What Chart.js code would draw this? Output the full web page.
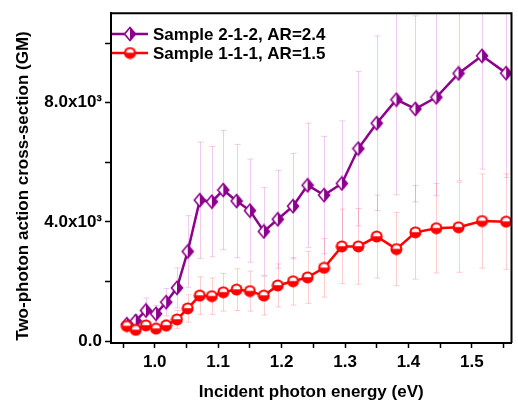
<!DOCTYPE html>
<html>
<head>
<meta charset="utf-8">
<script src="https://cdn.jsdelivr.net/npm/chart.js@4.4.1/dist/chart.umd.min.js"></script>
<style>
  html, body { margin: 0; padding: 0; background: #fff; }
  #wrap { width: 518px; height: 403px; }
</style>
</head>
<body>
<div id="wrap"><canvas id="tpa" width="518" height="403"></canvas></div>
<script>
// photon energy (eV)
const energy = [0.956, 0.970, 0.986, 1.002, 1.018, 1.035, 1.052, 1.071, 1.090, 1.108, 1.129, 1.150, 1.172,
  1.194, 1.218, 1.241, 1.267, 1.295, 1.321, 1.350, 1.381, 1.411, 1.444, 1.479, 1.516, 1.554];

// Sample 2-1-2, AR=2.4
const sampleA = [570, 680, 1030, 920, 1310, 1790, 3010, 4730, 4680, 5070, 4700, 4380, 3680,
  4090, 4530, 5230, 4900, 5290, 6460, 7310, 8100, 7790, 8180, 8980, 9570, 8990];
const sampleAErr = [150, 200, 420, 280, 460, 670, 1200, 1950, 1850, 2000, 1900, 1730, 1470,
  1640, 1770, 2080, 1970, 2100, 2590, 2930, 3190, 3120, 3300, 3600, 3800, 3500];

// Sample 1-1-1, AR=1.5
const sampleB = [510, 380, 530, 420, 530, 730, 1100, 1530, 1510, 1640, 1730, 1680, 1530,
  1870, 2010, 2140, 2460, 3180, 3180, 3510, 3090, 3650, 3790, 3820, 4030, 4010];
const sampleBErr = [120, 130, 150, 150, 200, 300, 460, 630, 610, 630, 700, 670, 650,
  720, 800, 870, 980, 1250, 1270, 1390, 1230, 1570, 1500, 1510, 1580, 1600];

const labels = ['Sample 2-1-2, AR=2.4', 'Sample 1-1-1, AR=1.5'];

// tick positions; only some carry a label
const xTicks = [0.95, 1.0, 1.05, 1.1, 1.15, 1.2, 1.25, 1.3, 1.35, 1.4, 1.45, 1.5, 1.55];
const xTickLabels = ['', '1.0', '', '1.1', '', '1.2', '', '1.3', '', '1.4', '', '1.5', ''];
const yTicks = [0, 2000, 4000, 6000, 8000, 10000];
const yTickLabels = ['0.0', '', '4.0x10\u00B3', '', '8.0x10\u00B3', ''];

const PURPLE = 'rgb(140, 0, 140)';
const RED = 'rgb(255, 0, 0)';
const FONT = '"Liberation Sans", Arial, sans-serif';

// half filled diamond, right half solid
function diamondMarker() {
  const c = document.createElement('canvas');
  c.width = 14; c.height = 16;
  const g = c.getContext('2d');
  g.fillStyle = '#fff';
  g.beginPath(); g.moveTo(7, 1.5); g.lineTo(1.5, 8); g.lineTo(7, 14.5); g.closePath(); g.fill();
  g.fillStyle = PURPLE;
  g.beginPath(); g.moveTo(7, 1.5); g.lineTo(12.5, 8); g.lineTo(7, 14.5); g.closePath(); g.fill();
  g.strokeStyle = PURPLE; g.lineWidth = 1.6;
  g.beginPath(); g.moveTo(7, 1.5); g.lineTo(12.5, 8); g.lineTo(7, 14.5); g.lineTo(1.5, 8); g.closePath(); g.stroke();
  return c;
}

// circle with a white upper half inside a red ring
function circleMarker() {
  const c = document.createElement('canvas');
  c.width = 13; c.height = 13;
  const g = c.getContext('2d');
  g.fillStyle = RED;
  g.beginPath(); g.arc(6.5, 6.5, 6, 0, Math.PI * 2); g.fill();
  g.fillStyle = '#fff';
  g.beginPath(); g.arc(6.5, 6.2, 3.8, Math.PI, 0); g.closePath(); g.fill();
  return c;
}

const markers = [diamondMarker(), circleMarker()];

const errorBars = {
  id: 'errorBars',
  beforeDatasetsDraw(chart) {
    const ctx = chart.ctx;
    const area = chart.chartArea;
    const xs = chart.scales.x, ys = chart.scales.y;
    const sets = [
      { vals: sampleA, err: sampleAErr, color: 'rgba(210, 120, 210, 0.38)' },
      { vals: sampleB, err: sampleBErr, color: 'rgba(255, 70, 70, 0.26)' }
    ];
    ctx.save();
    ctx.beginPath();
    ctx.rect(area.left, area.top, area.right - area.left, area.bottom - area.top);
    ctx.clip();
    ctx.lineWidth = 1;
    sets.forEach(s => {
      ctx.strokeStyle = s.color;
      energy.forEach((e, i) => {
        const x = Math.round(xs.getPixelForValue(e)) + 0.5;
        const y1 = ys.getPixelForValue(s.vals[i] + s.err[i]);
        const y2 = ys.getPixelForValue(s.vals[i] - s.err[i]);
        ctx.beginPath();
        ctx.moveTo(x, y1); ctx.lineTo(x, y2);
        ctx.moveTo(x - 3, y1); ctx.lineTo(x + 3, y1);
        ctx.moveTo(x - 3, y2); ctx.lineTo(x + 3, y2);
        ctx.stroke();
      });
    });
    ctx.restore();
  }
};

const frame = {
  id: 'frame',
  afterDraw(chart) {
    const ctx = chart.ctx;
    const a = chart.chartArea;
    ctx.save();
    ctx.strokeStyle = '#000';
    ctx.lineWidth = 2;
    ctx.beginPath();
    ctx.moveTo(a.left, a.top); ctx.lineTo(a.right, a.top); ctx.lineTo(a.right, a.bottom);
    ctx.stroke();

    // legend inside the plot
    ctx.font = 'bold 17px ' + FONT;
    ctx.textBaseline = 'middle';
    ctx.fillStyle = '#000';
    const cols = [PURPLE, RED];
    const rows = [34, 53];
    labels.forEach((lab, i) => {
      ctx.strokeStyle = cols[i];
      ctx.lineWidth = 2.5;
      ctx.beginPath(); ctx.moveTo(a.left + 1, rows[i]); ctx.lineTo(a.left + 37, rows[i]); ctx.stroke();
      const m = markers[i];
      ctx.drawImage(m, a.left + 19 - m.width / 2, rows[i] - m.height / 2);
      ctx.fillText(lab, a.left + 42, rows[i] + 1);
    });

    // y axis title
    ctx.translate(23, 186);
    ctx.rotate(-Math.PI / 2);
    ctx.textAlign = 'center';
    ctx.fillText('Two-photon action cross-section (GM)', 0, 0);
    ctx.restore();
  }
};

new Chart(document.getElementById('tpa'), {
  type: 'line',
  data: {
    datasets: [
      {
        label: labels[0],
        data: energy.map((e, i) => ({ x: e, y: sampleA[i] })),
        borderColor: PURPLE,
        borderWidth: 2.5,
        pointStyle: markers[0],
        order: 2
      },
      {
        label: labels[1],
        data: energy.map((e, i) => ({ x: e, y: sampleB[i] })),
        borderColor: RED,
        borderWidth: 2.5,
        pointStyle: markers[1],
        order: 1
      }
    ]
  },
  options: {
    responsive: false,
    animation: false,
    layout: { padding: { left: 0, right: 3, top: 12, bottom: 0 } },
    plugins: {
      legend: { display: false },
      tooltip: { enabled: false }
    },
    scales: {
      x: {
        type: 'linear',
        min: 0.931,
        max: 1.5625,
        afterFit: (s) => { s.height = 60; },
        afterBuildTicks: (s) => { s.ticks = xTicks.map(v => ({ value: v })); },
        border: { display: true, color: '#000', width: 2 },
        grid: { drawOnChartArea: false, drawTicks: true, tickLength: 5, color: '#000', tickWidth: 1.5 },
        ticks: {
          autoSkip: false,
          maxRotation: 0,
          padding: 4,
          color: '#000',
          font: { family: FONT, size: 17, weight: 'bold' },
          callback: (value, index) => xTickLabels[index]
        },
        title: {
          display: true,
          text: 'Incident photon energy (eV)',
          color: '#000',
          padding: { top: 0, bottom: 0 },
          font: { family: FONT, size: 17, weight: 'bold' }
        }
      },
      y: {
        type: 'linear',
        min: -60,
        max: 11000,
        afterFit: (s) => { s.width = 111; },
        afterBuildTicks: (s) => { s.ticks = yTicks.map(v => ({ value: v })); },
        border: { display: true, color: '#000', width: 2 },
        grid: { drawOnChartArea: false, drawTicks: true, tickLength: 6, color: '#000', tickWidth: 1.5 },
        ticks: {
          autoSkip: false,
          padding: 3,
          color: '#000',
          font: { family: FONT, size: 17, weight: 'bold' },
          callback: (value, index) => yTickLabels[index]
        }
      }
    }
  },
  plugins: [errorBars, frame]
});
</script>
</body>
</html>
